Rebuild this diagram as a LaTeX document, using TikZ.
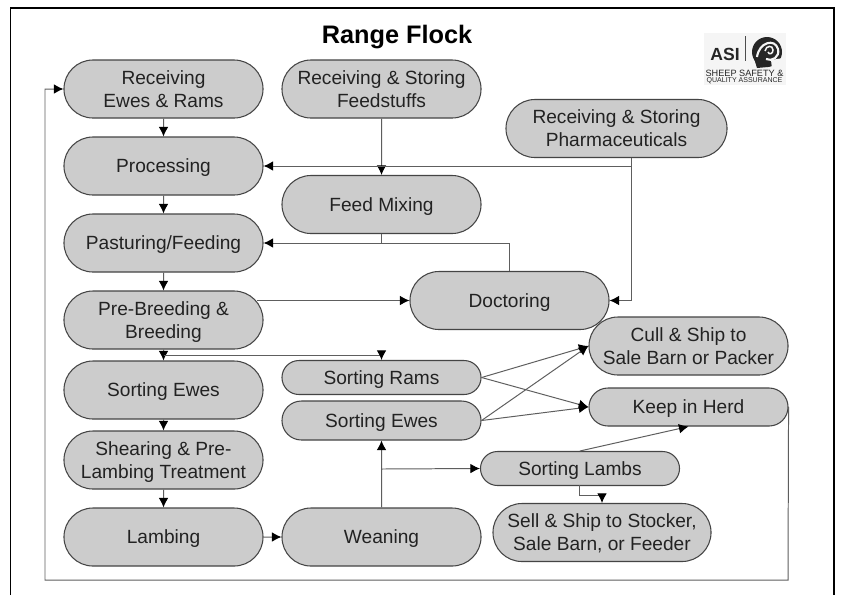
\documentclass[tikz,border=0pt]{standalone}
\usepackage{fontspec}
\setmainfont{Liberation Sans}
\usepackage{tikz}
\usetikzlibrary{arrows.meta,shapes.misc}

\definecolor{boxgray}{HTML}{CCCCCC}
\definecolor{edgegray}{HTML}{444444}
\definecolor{linegray}{HTML}{5E5E5E}
\definecolor{inkgray}{HTML}{222222}
\definecolor{logopaper}{HTML}{F5F5F5}

\tikzset{
  flockbox/.style={rounded rectangle,draw=edgegray,line width=0.75pt,fill=boxgray,text=inkgray,
    align=center,inner sep=0pt,minimum width=4.975cm,minimum height=1.45cm,text depth=0pt,
    font=\fontsize{13.6}{16.4}\selectfont},
  thinbox/.style={flockbox,minimum height=0.85cm},
  flow/.style={draw=linegray,line width=0.7pt,-{Latex[length=2.4mm,width=2.4mm,black]}},
  plainflow/.style={draw=linegray,line width=0.7pt}
}

\begin{document}
\begin{tikzpicture}[x=0.025cm,y=-0.025cm]
      \useasboundingbox (0,0) rectangle (841,595);
      \fill[white] (0,0) rectangle (841,595);
      \coordinate (frameA) at (10.5,595);
      \coordinate (frameB) at (10.5,8);
      \coordinate (frameC) at (834,8);
      \coordinate (frameD) at (834,595);
      \draw[black,line width=1pt] (frameA) -- (frameB) -- (frameC) -- (frameD);

      \node[font=\fontsize{18}{20}\selectfont\bfseries] (title) at (397,37) {Range Flock};

      % left column
      \node[flockbox] (recv) at (163.5,89) {Receiving\\Ewes \& Rams};
      \node[flockbox] (proc) at (163.5,166) {Processing};
      \node[flockbox] (past) at (163.5,243) {Pasturing/Feeding};
      \node[flockbox] (pre) at (163.5,320) {Pre-Breeding \&\\Breeding};
      \node[flockbox] (ewesA) at (163.5,390) {Sorting Ewes};
      \node[flockbox] (shear) at (163.5,460) {Shearing \& Pre-\\Lambing Treatment};
      \node[flockbox] (lamb) at (163.5,537) {Lambing};

      % middle
      \node[flockbox] (feed) at (381.5,89) {Receiving \& Storing\\Feedstuffs};
      \node[flockbox] (mix) at (381.5,204.5) {Feed Mixing};
      \node[flockbox,minimum width=5.525cm] (pharm) at (616.5,128.5) {Receiving \& Storing\\Pharmaceuticals};
      \node[flockbox] (doct) at (509.5,300.5) {Doctoring};
      \node[thinbox] (rams) at (381.5,377.5) {Sorting Rams};
      \node[thinbox,minimum height=0.975cm] (ewesB) at (381.5,420.5) {Sorting Ewes};
      \node[flockbox] (wean) at (381.5,537) {Weaning};

      % right
      \node[flockbox] (cull) at (688.5,346) {Cull \& Ship to\\Sale Barn or Packer};
      \node[thinbox,minimum height=0.95cm] (keep) at (688.5,407) {Keep in Herd};
      \node[thinbox] (lambs) at (580,468.5) {Sorting Lambs};
      \node[flockbox,minimum width=5.45cm] (sell) at (602,532.5) {Sell \& Ship to Stocker,\\Sale Barn, or Feeder};

      % logo
      \fill[logopaper] (704,33) rectangle (786,85);
      \node[font=\fontsize{12.5}{12.5}\selectfont\bfseries,text=black!85,inner sep=0pt] (asi) at (725,54) {ASI};
      \draw[black!70,line width=0.6pt] (745,36) -- (745,61);
      \fill[black!85] (767,52) circle (15);
      \fill[black!85] (753,55) -- (757,68) -- (768,67) -- cycle;
      \fill[logopaper] (771,60) -- (783,58) -- (772,69) -- cycle;
      \draw[logopaper,line width=1.5pt] (757,57) .. controls (759,42) and (775,38) .. (778,49) .. controls (780,57) and (772,62) .. (766,59);
      \draw[logopaper,line width=1.1pt] (765,51) .. controls (766,45) and (773,45) .. (773,50) .. controls (773,54) and (769,55) .. (768,52);
      \node[font=\fontsize{6.5}{7}\selectfont,text=black!85,inner sep=0pt] (sheep) at (744.5,73.5) {SHEEP SAFETY \&};
      \node[font=\fontsize{5}{6}\selectfont,text=black!85,inner sep=0pt] (quality) at (744.5,81) {QUALITY ASSURANCE};

      % connectors
      \foreach \a/\b in {recv/proc,proc/past,past/pre,pre/ewesA,ewesA/shear,shear/lamb,feed/mix,wean/ewesB} {
        \draw[flow] (\a) -- (\b);
      }
      \draw[flow] (lamb) -- (wean);

      \coordinate (pharmdrop) at (631,158);
      \coordinate (pharmjoin) at (631,166);
      \draw[flow] (pharmdrop) |- (doct.east);
      \draw[flow] (pharmjoin) -- (proc.east);

      \draw[plainflow] (doct.north) |- (mix.south |- past.east);
      \draw[flow] (mix.south) |- (past.east);

      \coordinate (prestart) at (257,300.5);
      \draw[flow] (prestart) -- (doct.west);

      \coordinate (ramsjoin) at (163.5,355);
      \draw[flow] (ramsjoin) -| (rams.north);

      \foreach \a in {rams,ewesB} {
        \draw[flow] (\a.east) -- (cull.west);
        \draw[flow] (\a.east) -- (keep.west);
      }

      \coordinate (lambsjoin) at (381.5,469);
      \draw[flow] (lambsjoin) -- (lambs.west);
      \draw[flow] (lambs.north) -- (keep.south);
      \coordinate (lambsdrop) at (579,485);
      \coordinate (lambsbend) at (579,495);
      \coordinate (sellbend) at (602,495);
      \draw[flow] (lambsdrop) -- (lambsbend) -- (sellbend) -- (sell.north);

      \coordinate (backA) at (788,580);
      \coordinate (backB) at (45,580);
      \coordinate (backC) at (45,89);
      \draw[flow] (keep.east) -- (backA) -- (backB) -- (backC) -- (recv.west);
    \end{tikzpicture}
\end{document}
